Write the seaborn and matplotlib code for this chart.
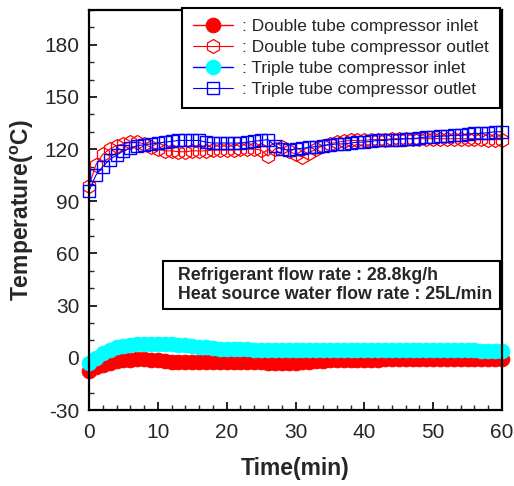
import matplotlib
matplotlib.use("Agg")
import matplotlib.pyplot as plt
import seaborn as sns
import numpy as np
import pandas as pd
from matplotlib.ticker import MultipleLocator
from matplotlib.patches import Rectangle

time_min = list(range(0, 61))

double_inlet = [-7.5, -5.5, -4, -3, -2, -1.5, -1, -0.8, -0.8, -1, -1.5, -2, -2.3, -2.5, -2.5,
                -2.5, -2.5, -2.5, -2.5, -2.5, -2.5, -2.5, -2.5, -2.5, -2.5, -2.6, -2.8, -3, -3, -3,
                -2.8, -2.5, -2.2, -2, -1.8, -1.5, -1.3, -1.2, -1.1, -1, -1, -1, -1, -0.9, -0.9,
                -0.9, -0.8, -0.8, -0.8, -0.8, -0.8, -0.8, -0.8, -0.8, -0.8, -0.8, -0.8, -0.8, -0.8, -0.8, -0.8]
double_outlet = [99, 111, 117, 120, 122, 123, 124, 124, 123, 121, 120, 119, 119, 118.5, 118.5,
                 119, 119, 119, 119.5, 119.5, 119.5, 119.5, 120, 120, 120, 119.5, 116, 120, 121, 119,
                 117, 115.5, 118, 120, 122, 123, 124, 124.5, 125, 125, 125, 125.5, 125.5, 125.5, 126,
                 126, 126, 126, 126, 126, 126, 126, 126, 126, 126, 126, 126, 126, 125.5, 125.5, 125.5]
triple_inlet = [-3, 0, 2.5, 4.5, 6, 7, 7.5, 8, 8.2, 8.2, 8, 8, 7.8, 7.5, 7.2,
                7, 6.5, 6, 5.5, 5.2, 5, 4.9, 4.8, 4.8, 4.7, 4.7, 4.6, 4.6, 4.6, 4.5,
                4.5, 4.5, 4.5, 4.5, 4.5, 4.5, 4.5, 4.5, 4.5, 4.5, 4.5, 4.5, 4.5, 4.5, 4.5,
                4.5, 4.5, 4.5, 4.5, 4.5, 4.5, 4.5, 4.5, 4.5, 4.4, 4.4, 4.3, 4.2, 4.1, 4.0, 4.0]
triple_outlet = [96, 105, 110, 114, 116.5, 119, 120.5, 122, 122.5, 123, 123.5, 124, 124.5, 125, 125,
                 125, 125, 124, 123.5, 123.5, 123.5, 123.5, 123.5, 124, 124.5, 125, 125.5, 122, 120, 119.5,
                 120, 120.5, 121, 121.5, 122, 122.5, 123, 123, 123.5, 124, 124, 124.5, 125, 125, 125.5,
                 125.5, 126, 126, 126.5, 127, 127, 127.5, 127.5, 128, 128, 128.5, 129, 129, 129.5, 130, 130]

labels = [": Double tube compressor inlet", ": Double tube compressor outlet",
          ": Triple tube compressor inlet", ": Triple tube compressor outlet"]
note_lines = ["Refrigerant flow rate : 28.8kg/h", "Heat source water flow rate : 25L/min"]
y_ticks = [-30, 0, 30, 60, 90, 120, 150, 180]

sns.set_style("ticks")
plt.rcParams['font.family'] = ['Liberation Sans', 'DejaVu Sans']
plt.rcParams['axes.unicode_minus'] = False
plt.rcParams['mathtext.fontset'] = 'custom'
plt.rcParams['mathtext.rm'] = 'Liberation Sans'
plt.rcParams['mathtext.bf'] = 'Liberation Sans:bold'

W, H = 514, 486
fig = plt.figure(figsize=(W/100, H/100), dpi=100)
ax = fig.add_axes([89/W, 1-410/H, (502-89)/W, (410-10)/H])

df = pd.DataFrame({"t": time_min, "di": double_inlet, "do": double_outlet,
                   "ti": triple_inlet, "to": triple_outlet})

sns.lineplot(data=df, x="t", y="di", ax=ax, color="#ff0000", linewidth=1,
             marker="o", markersize=10.5, markeredgecolor="#ff0000", markerfacecolor="#ff0000",
             label=labels[0], clip_on=False)
sns.lineplot(data=df, x="t", y="do", ax=ax, color="#ff0000", linewidth=0.8,
             marker="h", markersize=10, markeredgecolor="#ff0000", markerfacecolor="none",
             markeredgewidth=0.9, label=labels[1], clip_on=False)
sns.lineplot(data=df, x="t", y="ti", ax=ax, color="#0000ff", linewidth=1,
             marker="o", markersize=10.5, markeredgecolor="#00ffff", markerfacecolor="#00ffff",
             label=labels[2], clip_on=False)
sns.lineplot(data=df, x="t", y="to", ax=ax, color="#0000ff", linewidth=0.8,
             marker="s", markersize=8.8, markeredgecolor="#0000ff", markerfacecolor="none",
             markeredgewidth=1.0, label=labels[3], clip_on=False)

ax.set_xlim(0, 60)
ax.set_ylim(-30, 200)
ax.xaxis.set_major_locator(MultipleLocator(10))
ax.xaxis.set_minor_locator(MultipleLocator(2))
ax.yaxis.set_minor_locator(MultipleLocator(10))
ax.set_yticks(y_ticks)
ax.tick_params(axis="x", which="major", pad=9)
ax.tick_params(axis="y", which="major", pad=7)
ax.tick_params(which="major", direction="in", length=6, width=1.2, labelsize=15, color="black",
               top=False, right=False)
ax.tick_params(which="minor", direction="in", length=3.5, width=1.0, top=False, right=False)
for s in ax.spines.values():
    s.set_linewidth(1.6)
    s.set_color("black")
    s.set_zorder(5)

ax.set_xlabel("Time(min)", fontsize=16.5, fontweight="bold", labelpad=11)
ax.set_ylabel("Temperature($\\mathbf{^{o}}$C)", fontsize=16.5, fontweight="bold", labelpad=6)

leg = ax.legend(loc="upper right", bbox_to_anchor=(500/W, 1-8/H), bbox_transform=fig.transFigure,
                fontsize=12.5, frameon=True, fancybox=False, edgecolor="black",
                handlelength=2.3, handletextpad=0.5, borderpad=0.65, labelspacing=0.33,
                borderaxespad=0)
leg.get_frame().set_linewidth(1.5)
leg.get_frame().set_alpha(1)
leg.set_zorder(10)

fig.patches.append(Rectangle((163/W, 1-309/H), (500-163)/W, (309-261)/H, transform=fig.transFigure,
                             facecolor="white", edgecolor="black", linewidth=1.5, zorder=3))
fig.text(178/W, 1-285/H, note_lines[0] + "\n" + note_lines[1],
         fontsize=12.8, fontweight="bold", va="center", ha="left", linespacing=1.1, zorder=4)

fig.savefig("out.png", dpi=100)
